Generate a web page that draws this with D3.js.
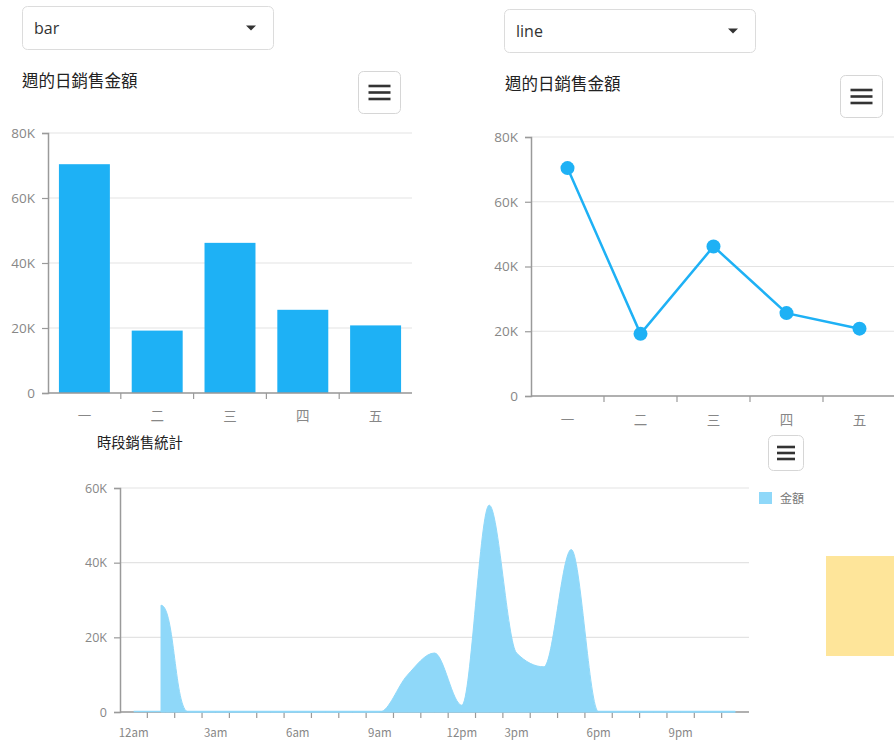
<!DOCTYPE html>
<html>
<head>
<meta charset="utf-8">
<script src="https://cdn.jsdelivr.net/npm/d3@7"></script>
<style>
  body { margin: 0; background: #fff; }
  svg { display: block; }
  text { font-family: "Open Sans", "Noto Sans CJK TC", sans-serif; }
  .cjk { font-family: "Noto Sans CJK TC", "Noto Sans", sans-serif; }
</style>
</head>
<body>
<script>
// weekday sales
const days = ["一", "二", "三", "四", "五"];
const daySales = [70400, 19200, 46200, 25600, 20800];
const dayTicks = [0, 20000, 40000, 60000, 80000];

// hourly sales (hour 13 has no entry, the area starts at 1am)
const hours = [0, 1, 2, 3, 4, 5, 6, 7, 8, 9, 10, 11, 12, 14, 15, 16, 17, 18, 19, 20, 21, 22, 23];
const hourSales = [null, 28600, 0, 0, 0, 0, 0, 0, 0, 0, 9800, 15800, 1800, 55400, 15800, 12100, 43500, 0, 0, 0, 0, 0, 0];
const hourTicks = [0, 20000, 40000, 60000];
const hourLabelAt = [0, 3, 6, 9, 12, 15, 18, 21];
const hourLabels = ["12am", "3am", "6am", "9am", "12pm", "3pm", "6pm", "9pm"];

const seriesName = "金額";
const chartTitle = "週的日銷售金額";
const areaTitle = "時段銷售統計";

const blue = "#1eb1f5";
const lightBlue = "#8fd8f9";
const labelColor = "#878787";
const gridColor = "#e3e3e3";
const axisColor = "#9a9a9a";

const svg = d3.select("body").append("svg")
  .attr("width", 894)
  .attr("height", 740);

const fmtK = d => d === 0 ? "0" : (d / 1000) + "K";

function dropdown(x, y, w, h, label) {
  const g = svg.append("g").attr("transform", `translate(${x},${y})`);
  g.append("rect")
    .attr("x", 0.5).attr("y", 0.5)
    .attr("width", w).attr("height", h)
    .attr("rx", 5)
    .attr("fill", "#fff")
    .attr("stroke", "#dcdcdc");
  g.append("text")
    .attr("x", 12).attr("y", h / 2 + 6)
    .attr("font-size", 16)
    .attr("fill", "#333")
    .text(label);
  g.append("path")
    .attr("d", `M${w - 27},${h / 2 - 2} l10,0 l-5,5 z`)
    .attr("fill", "#333");
}

function menuButton(x, y, size, lineW, gap) {
  const g = svg.append("g").attr("transform", `translate(${x},${y})`);
  g.append("rect")
    .attr("x", 0.5).attr("y", 0.5)
    .attr("width", size).attr("height", size)
    .attr("rx", 5)
    .attr("fill", "#fff")
    .attr("stroke", "#d6d6d6");
  [-gap, 0, gap].forEach(dy => {
    g.append("line")
      .attr("x1", (size - lineW) / 2 + 0.5)
      .attr("x2", (size + lineW) / 2 + 0.5)
      .attr("y1", size / 2 + dy + 0.5)
      .attr("y2", size / 2 + dy + 0.5)
      .attr("stroke", "#333")
      .attr("stroke-width", 2.6);
  });
}

function yAxis(y, x0, x1, ticks, fontSize) {
  const g = svg.append("g");
  // grid lines
  g.selectAll(".grid")
    .data(ticks)
    .enter()
    .append("line")
    .attr("x1", x0).attr("x2", x1)
    .attr("y1", d => y(d)).attr("y2", d => y(d))
    .attr("stroke", gridColor)
    .attr("stroke-width", 1.2);
  const ax = g.append("g")
    .attr("transform", `translate(${x0},0)`)
    .call(d3.axisLeft(y).tickValues(ticks).tickFormat(fmtK).tickSize(6).tickPadding(7));
  ax.select(".domain").attr("stroke", axisColor).attr("stroke-width", 1.5);
  ax.selectAll(".tick line").attr("stroke", axisColor).attr("stroke-width", 1.2);
  ax.selectAll("text")
    .attr("fill", labelColor)
    .attr("font-size", fontSize)
    .attr("font-family", "'Open Sans', sans-serif");
}

function bandAxis(x, y0, labelY, fontSize, labelFn, showLabel) {
  const g = svg.append("g");
  const [r0, r1] = x.range();
  g.append("line")
    .attr("x1", r0).attr("x2", r1)
    .attr("y1", y0).attr("y2", y0)
    .attr("stroke", axisColor)
    .attr("stroke-width", 1.5);
  // ticks at band boundaries
  const dom = x.domain();
  g.selectAll(".tk")
    .data(dom.slice(1))
    .enter()
    .append("line")
    .attr("x1", d => x(d)).attr("x2", d => x(d))
    .attr("y1", y0).attr("y2", y0 + 6)
    .attr("stroke", axisColor)
    .attr("stroke-width", 1.2);
  g.selectAll(".lb")
    .data(dom.filter(showLabel))
    .enter()
    .append("text")
    .attr("class", "cjk")
    .attr("x", d => x(d) + x.bandwidth() / 2)
    .attr("y", labelY)
    .attr("text-anchor", "middle")
    .attr("font-size", fontSize)
    .attr("fill", labelColor)
    .text(labelFn);
}

// ---- bar chart ----
dropdown(22, 6, 251, 43, "bar");
svg.append("text").attr("class", "cjk")
  .attr("x", 22).attr("y", 87)
  .attr("font-size", 16.5).attr("fill", "#222")
  .text(chartTitle);
menuButton(358, 71, 42, 22, 6.5);

const xBar = d3.scaleBand().domain(days).range([48, 412]).padding(0);
const yBar = d3.scaleLinear().domain([0, 80000]).range([393, 133]);
yAxis(yBar, 48, 412, dayTicks, 13.5);

svg.selectAll(".bar")
  .data(days)
  .enter()
  .append("rect")
  .attr("class", "bar")
  .attr("x", d => xBar(d) + xBar.bandwidth() * 0.15)
  .attr("width", xBar.bandwidth() * 0.7)
  .attr("y", (d, i) => yBar(daySales[i]))
  .attr("height", (d, i) => yBar(0) - yBar(daySales[i]))
  .attr("fill", blue);

bandAxis(xBar, 393, 421, 13.5, d => d, () => true);

// ---- line chart ----
dropdown(504, 9, 251, 43, "line");
svg.append("text").attr("class", "cjk")
  .attr("x", 505).attr("y", 90)
  .attr("font-size", 16.5).attr("fill", "#222")
  .text(chartTitle);
menuButton(840, 75, 42, 22, 6.5);

const xLine = d3.scaleBand().domain(days).range([531, 896]).padding(0);
const yLine = d3.scaleLinear().domain([0, 80000]).range([396, 137]);
yAxis(yLine, 531, 896, dayTicks, 13.5);

const line = d3.line()
  .x((d, i) => xLine(days[i]) + xLine.bandwidth() / 2)
  .y(d => yLine(d));

svg.append("path")
  .datum(daySales)
  .attr("d", line)
  .attr("fill", "none")
  .attr("stroke", blue)
  .attr("stroke-width", 2.5);

svg.selectAll(".pt")
  .data(daySales)
  .enter()
  .append("circle")
  .attr("cx", (d, i) => xLine(days[i]) + xLine.bandwidth() / 2)
  .attr("cy", d => yLine(d))
  .attr("r", 7)
  .attr("fill", blue);

bandAxis(xLine, 396, 425, 13.5, d => d, () => true);

// ---- area chart ----
svg.append("text").attr("class", "cjk")
  .attr("x", 97).attr("y", 448)
  .attr("font-size", 14.3).attr("fill", "#222")
  .text(areaTitle);
menuButton(768, 435, 35, 18, 6);

const xArea = d3.scaleBand().domain(hours).range([120, 749]).padding(0);
const yArea = d3.scaleLinear().domain([0, 60000]).range([712, 488]);
yAxis(yArea, 120, 749, hourTicks, 12.5);

const pts = hourSales
  .map((v, i) => ({ x: xArea(hours[i]) + xArea.bandwidth() / 2, v: v }))
  .filter(d => d.v !== null);

function areaOf(curve) {
  return d3.area()
    .curve(curve)
    .x(d => d.x)
    .y0(yArea(0))
    .y1(d => yArea(d.v));
}

bandAxis(xArea, 712, 737, 11.5,
  d => hourLabels[hourLabelAt.indexOf(d)],
  d => hourLabelAt.includes(d));

// thin series line along zero across all hours
svg.append("line")
  .attr("x1", xArea(hours[0]) + xArea.bandwidth() / 2)
  .attr("x2", xArea(hours[hours.length - 1]) + xArea.bandwidth() / 2)
  .attr("y1", yArea(0) - 0.5).attr("y2", yArea(0) - 0.5)
  .attr("stroke", lightBlue)
  .attr("stroke-width", 1.5);

// first spike has a rounded top, rest follows a monotone spline
svg.append("path")
  .datum(pts.slice(0, 2))
  .attr("d", areaOf(d3.curveBumpX))
  .attr("fill", lightBlue)
  .attr("stroke", lightBlue)
  .attr("stroke-width", 1);

svg.append("path")
  .datum(pts.slice(1))
  .attr("d", areaOf(d3.curveMonotoneX))
  .attr("fill", lightBlue)
  .attr("stroke", lightBlue)
  .attr("stroke-width", 1);

// legend
svg.append("rect")
  .attr("x", 759).attr("y", 492)
  .attr("width", 13).attr("height", 12)
  .attr("fill", lightBlue);
svg.append("text").attr("class", "cjk")
  .attr("x", 780).attr("y", 502.5)
  .attr("font-size", 12).attr("fill", "#777")
  .text(seriesName);

// yellow block at the right edge
svg.append("rect")
  .attr("x", 826).attr("y", 556)
  .attr("width", 68).attr("height", 100)
  .attr("fill", "#fee59a");
</script>
</body>
</html>
